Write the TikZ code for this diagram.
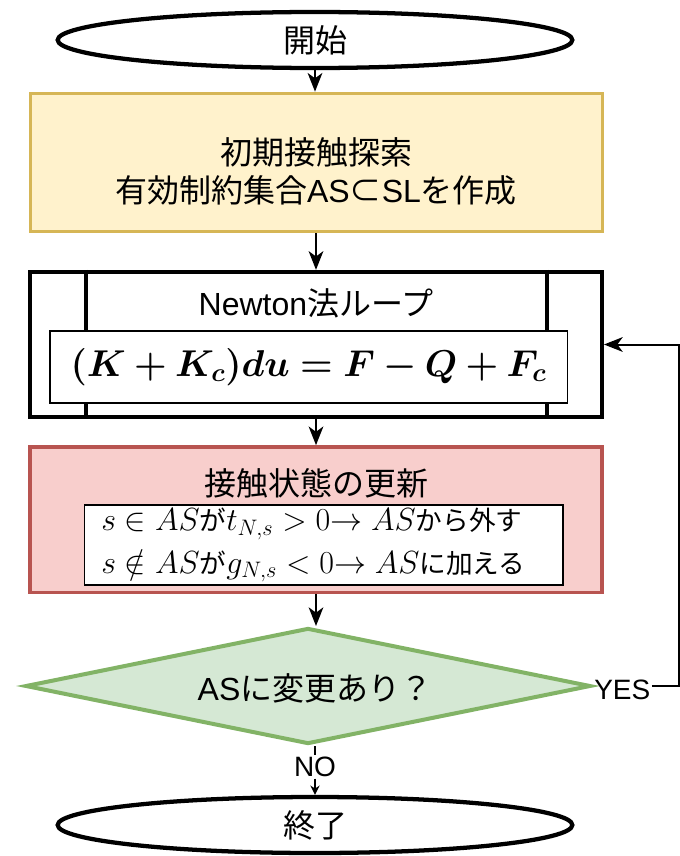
\RequirePackage{fix-cm}
\documentclass[tikz,border=0pt]{standalone}
\usepackage[no-math]{fontspec}
\usepackage{bm}
\setmainfont{Liberation Sans}
\newfontfamily\jp{Noto Sans CJK JP}
\newcommand{\js}[1]{{\jp\fontsize{20}{32}\selectfont #1}}
\usetikzlibrary{shapes.geometric,arrows.meta}
\definecolor{yfill}{HTML}{FFF2CC}
\definecolor{ydraw}{HTML}{D6B656}
\definecolor{rfill}{HTML}{F8CECC}
\definecolor{rdraw}{HTML}{B85450}
\definecolor{gfill}{HTML}{D5E8D4}
\definecolor{gdraw}{HTML}{82B366}
\begin{document}
\begin{tikzpicture}[x=0.75pt,y=-0.75pt,
  conn/.style={line width=1.5pt,-{Stealth[length=14pt,width=11pt,inset=4pt]}},
  term/.style={ellipse,draw,line width=3.2pt,minimum width=386pt,minimum height=42pt,inner sep=0pt},
  big/.style={font=\fontsize{24}{28.5}\selectfont},
  small/.style={font=\fontsize{21}{24}\selectfont},
  stepbox/.style={minimum width=429pt,inner sep=0pt}]
\useasboundingbox (0,0) rectangle (680,856);

\node[term,big] (start) at (315,40) {\jp 開始};

\node[stepbox,draw=ydraw,fill=yfill,line width=2.25pt,minimum height=104pt] (init) at (316,162.5) {};
\node[big,align=center] (initt) at (316,171) {{\jp 初期接触探索}\\{\jp 有効制約集合}AS{\jp ⊂}SL{\jp を作成}};

\node[stepbox,draw,fill=white,line width=3pt,minimum height=109pt] (nl) at (316,344.5) {};
\draw[line width=3pt] ([xshift=43.5pt]nl.north west) -- ([xshift=43.5pt]nl.south west);
\draw[line width=3pt] ([xshift=-42.75pt]nl.north east) -- ([xshift=-42.75pt]nl.south east);
\node[big] (nlt) at (316,303) {Newton{\jp 法ループ}};
\node[draw,fill=white,line width=1pt,minimum width=388pt,minimum height=54pt,inner sep=0pt] (eq) at (308.5,367)
  {\fontsize{28}{32}\selectfont $\bm{(K+K_c)du=F-Q+F_c}$};

\node[stepbox,draw=rdraw,fill=rfill,line width=2.5pt,minimum height=109pt] (upd) at (316,519.5) {};
\node[big,inner sep=1pt] (updt) at (316,483) {\jp 接触状態の更新};
\node[draw,fill=white,line width=1pt,minimum width=359pt,minimum height=60pt,inner sep=0pt] (cond) at (323.5,545) {};
\node[anchor=west,align=left,inner sep=0pt,font=\fontsize{24}{32}\selectfont] (condt) at (101,545)
  {$s\in AS$\js{が}$t_{N,s}>0{\rightarrow}\;AS$\js{から外す}\\
   $s\notin AS$\js{が}$g_{N,s}<0{\rightarrow}\;AS$\js{に加える}};

\node[diamond,draw=gdraw,fill=gfill,line width=3pt,minimum width=424pt,minimum height=87pt,inner sep=0pt] (dec) at (308,686) {};
\node[big] (dect) at (315,688) {AS{\jp に変更あり？}};

\node[small,fill=white,inner sep=1pt] (no) at (315,767) {NO};
\node[term,big] (end) at (315,825) {\jp 終了};

\node[small,anchor=west,inner sep=1pt] (yes) at ([yshift=-3pt]dec.east) {YES};
\coordinate (rt) at (679,344.5);

\draw[conn] (start.south) -- (start.south |- init.north);
\draw[conn] (init.south) -- (nl.north);
\draw[conn] (nl.south) -- (upd.north);
\draw[conn] (upd.south) -- (upd.south |- dec.north);
\draw[line width=1.5pt] (no |- dec.south) -- (no.north);
\draw[line width=1.5pt,-{Stealth[length=7pt,width=7pt]}] (no.south) -- (no |- end.north);
\draw[conn] ([yshift=3pt]yes.east) -- ([yshift=3pt]yes.east -| rt) -- (rt) -- (nl.east);
\end{tikzpicture}
\end{document}
